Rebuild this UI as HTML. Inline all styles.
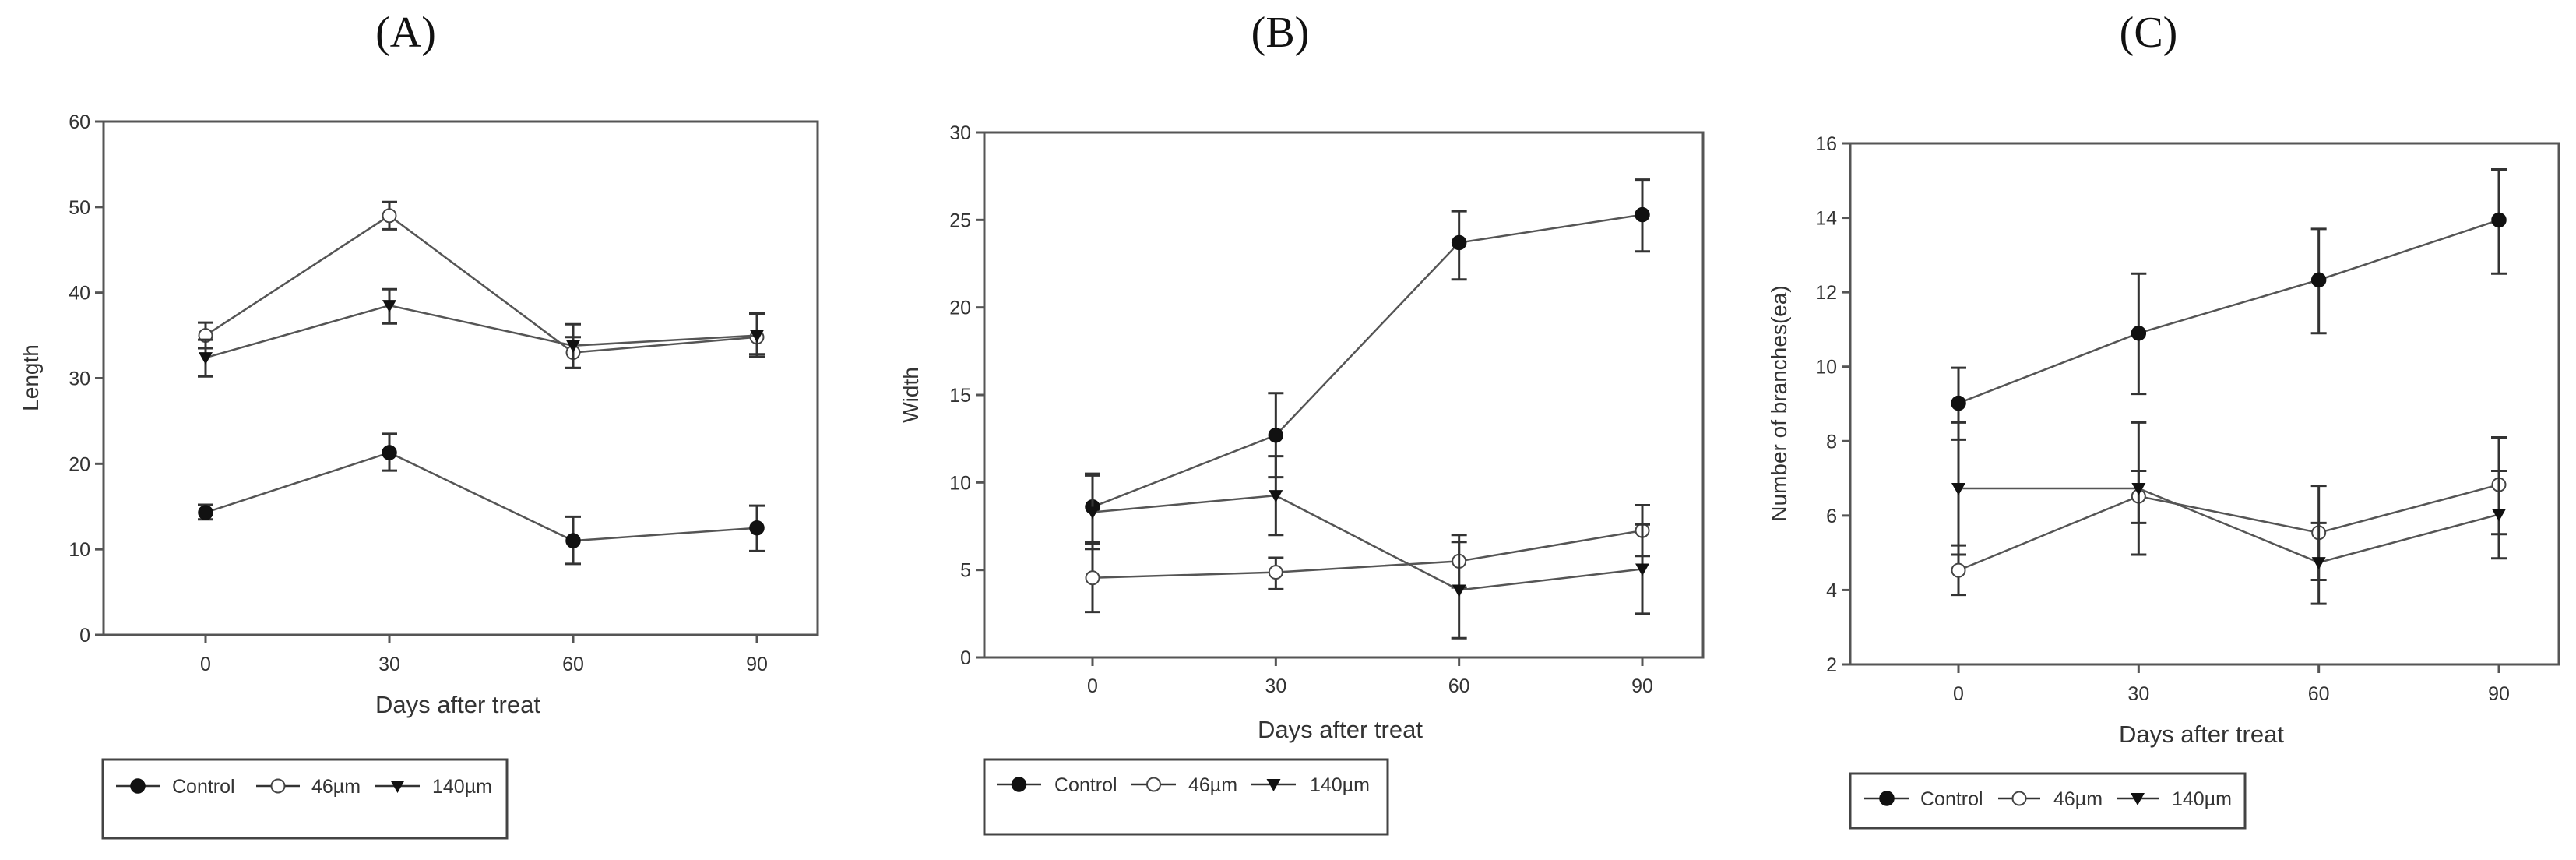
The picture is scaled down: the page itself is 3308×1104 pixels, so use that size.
<!DOCTYPE html>
<html><head><meta charset="utf-8"><style>
html,body{margin:0;padding:0;background:#fff;}
svg{display:block;}
text{font-family:"Liberation Sans",Arial,sans-serif;fill:#333;}
.ttl{font-family:"Liberation Serif",serif;fill:#111;}
</style></head><body>
<svg id="fig" width="3308" height="1104" viewBox="0 0 3308 1104" xmlns="http://www.w3.org/2000/svg"></svg>
<script>
const days = [0, 30, 60, 90];
const xTicks = [0, 30, 60, 90];
const seriesNames = ["Control", "46µm", "140µm"];

const aTicks = [0, 10, 20, 30, 40, 50, 60];
const aControl = [14.3, 21.3, 11.0, 12.5];
const aControlLo = [13.5, 19.2, 8.3, 9.8];
const aControlHi = [15.2, 23.5, 13.8, 15.1];
const a46 = [35.0, 49.0, 33.0, 34.8];
const a46Lo = [33.5, 47.4, 31.2, 32.5];
const a46Hi = [36.5, 50.6, 34.8, 37.5];
const a140 = [32.4, 38.5, 33.8, 35.0];
const a140Lo = [30.2, 36.4, 31.2, 32.8];
const a140Hi = [34.5, 40.4, 36.3, 37.6];

const bTicks = [0, 5, 10, 15, 20, 25, 30];
const bControl = [8.6, 12.7, 23.7, 25.3];
const bControlLo = [6.6, 10.3, 21.6, 23.2];
const bControlHi = [10.5, 15.1, 25.5, 27.3];
const b46 = [4.55, 4.87, 5.5, 7.25];
const b46Lo = [2.6, 3.9, 4.0, 5.8];
const b46Hi = [6.5, 5.7, 7.0, 8.7];
const b140 = [8.3, 9.25, 3.85, 5.05];
const b140Lo = [6.2, 7.0, 1.1, 2.5];
const b140Hi = [10.4, 11.5, 6.6, 7.6];

const cTicks = [2, 4, 6, 8, 10, 12, 14, 16];
const cControl = [9.02, 10.9, 12.33, 13.94];
const cControlLo = [8.04, 9.27, 10.9, 12.5];
const cControlHi = [9.97, 12.5, 13.7, 15.3];
const c46 = [4.53, 6.52, 5.54, 6.83];
const c46Lo = [3.87, 5.8, 4.27, 5.5];
const c46Hi = [5.2, 7.2, 6.8, 8.1];
const c140 = [6.73, 6.73, 4.74, 6.03];
const c140Lo = [4.95, 4.95, 3.63, 4.85];
const c140Hi = [8.5, 8.5, 5.8, 7.2];

const NS = "http://www.w3.org/2000/svg";
const svg = document.getElementById("fig");
function mk(tag, attrs, parent) {
  const e = document.createElementNS(NS, tag);
  for (const k in attrs) e.setAttribute(k, attrs[k]);
  (parent || svg).appendChild(e);
  return e;
}
function marker(g, kind, x, y) {
  let m;
  if (kind === 0) m = mk("circle", {cx: x, cy: y, r: 9, fill: "#111", stroke: "#111", "stroke-width": 1.5}, g);
  else if (kind === 1) m = mk("circle", {cx: x, cy: y, r: 8.5, fill: "#fff", stroke: "#444", "stroke-width": 2}, g);
  else m = mk("polygon", {points: `${x-9},${y-7} ${x+9},${y-7} ${x},${y+9}`, fill: "#111"}, g);
  return m;
}

function panel(p) {
  const g = mk("g", {});
  
  
  const ymin = p.ticks[0], ymax = p.ticks[p.ticks.length - 1];
  const sy = v => p.bottom - (v - ymin) / (ymax - ymin) * (p.bottom - p.top);
  const sx = d => p.x0 + (d - xTicks[0]) / (xTicks[xTicks.length-1] - xTicks[0]) * (p.x90 - p.x0);

  const t = mk("text", {x: p.titleX, y: 60, "font-size": 56, "text-anchor": "middle", class: "ttl"}, g);
  t.textContent = p.title;
  
  

  const frame = mk("rect", {x: p.left, y: p.top, width: p.right - p.left, height: p.bottom - p.top, fill: "none", stroke: "#555", "stroke-width": 3}, g);
  
  

  p.ticks.forEach(v => {
    const y = sy(v);
    mk("line", {x1: p.left - 11, x2: p.left, y1: y, y2: y, stroke: "#555", "stroke-width": 3}, g);
    const tl = mk("text", {x: p.left - 17, y: y + 9, "font-size": 25, "text-anchor": "end"}, g);
    tl.textContent = v;
    
    
  });
  xTicks.forEach(d => {
    const x = sx(d);
    mk("line", {x1: x, x2: x, y1: p.bottom, y2: p.bottom + 11, stroke: "#555", "stroke-width": 3}, g);
    const tl = mk("text", {x: x, y: p.tickY + 9, "font-size": 25, "text-anchor": "middle"}, g);
    tl.textContent = d;
    
    
  });
  const xt = mk("text", {x: p.xTitleX, y: p.xTitleY + 11, "font-size": 31, "text-anchor": "middle"}, g);
  xt.textContent = "Days after treat";
  
  
  const yt = mk("text", {x: 0, y: 0, "font-size": 28, "text-anchor": "middle", transform: `translate(${p.yTitleX + 10},${p.yTitleY}) rotate(-90)`}, g);
  yt.textContent = p.yTitle;
  
  

  p.series.forEach((s, k) => {
    const sg = mk("g", {}, g);
    
    
    const pts = days.map((d, i) => `${sx(d)},${sy(s.v[i])}`).join(" ");
    const pl = mk("polyline", {points: pts, fill: "none", stroke: "#555", "stroke-width": 2.5}, sg);
    
    
    days.forEach((d, i) => {
      const x = sx(d), ylo = sy(s.lo[i]), yhi = sy(s.hi[i]);
      const eb = mk("path", {d: `M${x},${ylo}V${yhi}M${x-10},${ylo}H${x+10}M${x-10},${yhi}H${x+10}`, stroke: "#333", "stroke-width": 3, fill: "none"}, sg);
      
      
    });
    days.forEach((d, i) => {
      const m = marker(sg, k, sx(d), sy(s.v[i]));
      
      
    });
  });

  const L = p.legend;
  const lg = mk("g", {}, g);
  
  
  mk("rect", {x: L.x, y: L.y, width: L.w, height: L.h, fill: "#fff", stroke: "#444", "stroke-width": 3}, lg);
  L.items.forEach((it, k) => {
    const eg = mk("g", {}, lg);
    
    
    mk("line", {x1: it[0], x2: it[1], y1: L.ey, y2: L.ey, stroke: "#333", "stroke-width": 2.5}, eg);
    marker(eg, k, (it[0] + it[1]) / 2, L.ey);
    const tx = mk("text", {x: it[2], y: L.ey + 9, "font-size": 25}, eg);
    tx.textContent = seriesNames[k];
  });
}

panel({id: "a", title: "(A)", titleX: 521, left: 133, right: 1050, top: 156, bottom: 815,
  x0: 264, x90: 972, tickY: 852, ticks: aTicks, xTitleX: 588, xTitleY: 904, yTitle: "Length", yTitleX: 39, yTitleY: 485,
  series: [{v: aControl, lo: aControlLo, hi: aControlHi}, {v: a46, lo: a46Lo, hi: a46Hi}, {v: a140, lo: a140Lo, hi: a140Hi}],
  legend: {x: 132, y: 975, w: 519, h: 101, ey: 1009, items: [[149, 205, 221], [329, 385, 400], [482, 539, 555]]}});
panel({id: "b", title: "(B)", titleX: 1644, left: 1264, right: 2187, top: 170, bottom: 844,
  x0: 1403, x90: 2109, tickY: 880, ticks: bTicks, xTitleX: 1721, xTitleY: 936, yTitle: "Width", yTitleX: 1169, yTitleY: 507,
  series: [{v: bControl, lo: bControlLo, hi: bControlHi}, {v: b46, lo: b46Lo, hi: b46Hi}, {v: b140, lo: b140Lo, hi: b140Hi}],
  legend: {x: 1264, y: 975, w: 518, h: 96, ey: 1007, items: [[1280, 1337, 1354], [1453, 1510, 1526], [1607, 1664, 1682]]}});
panel({id: "c", title: "(C)", titleX: 2759, left: 2376, right: 3286, top: 184, bottom: 853,
  x0: 2515, x90: 3209, tickY: 890, ticks: cTicks, xTitleX: 2827, xTitleY: 942, yTitle: "Number of branches(ea)", yTitleX: 2284, yTitleY: 518,
  series: [{v: cControl, lo: cControlLo, hi: cControlHi}, {v: c46, lo: c46Lo, hi: c46Hi}, {v: c140, lo: c140Lo, hi: c140Hi}],
  legend: {x: 2376, y: 993, w: 507, h: 70, ey: 1025, items: [[2394, 2452, 2466], [2566, 2620, 2637], [2718, 2772, 2789]]}});
</script>
</body></html>
